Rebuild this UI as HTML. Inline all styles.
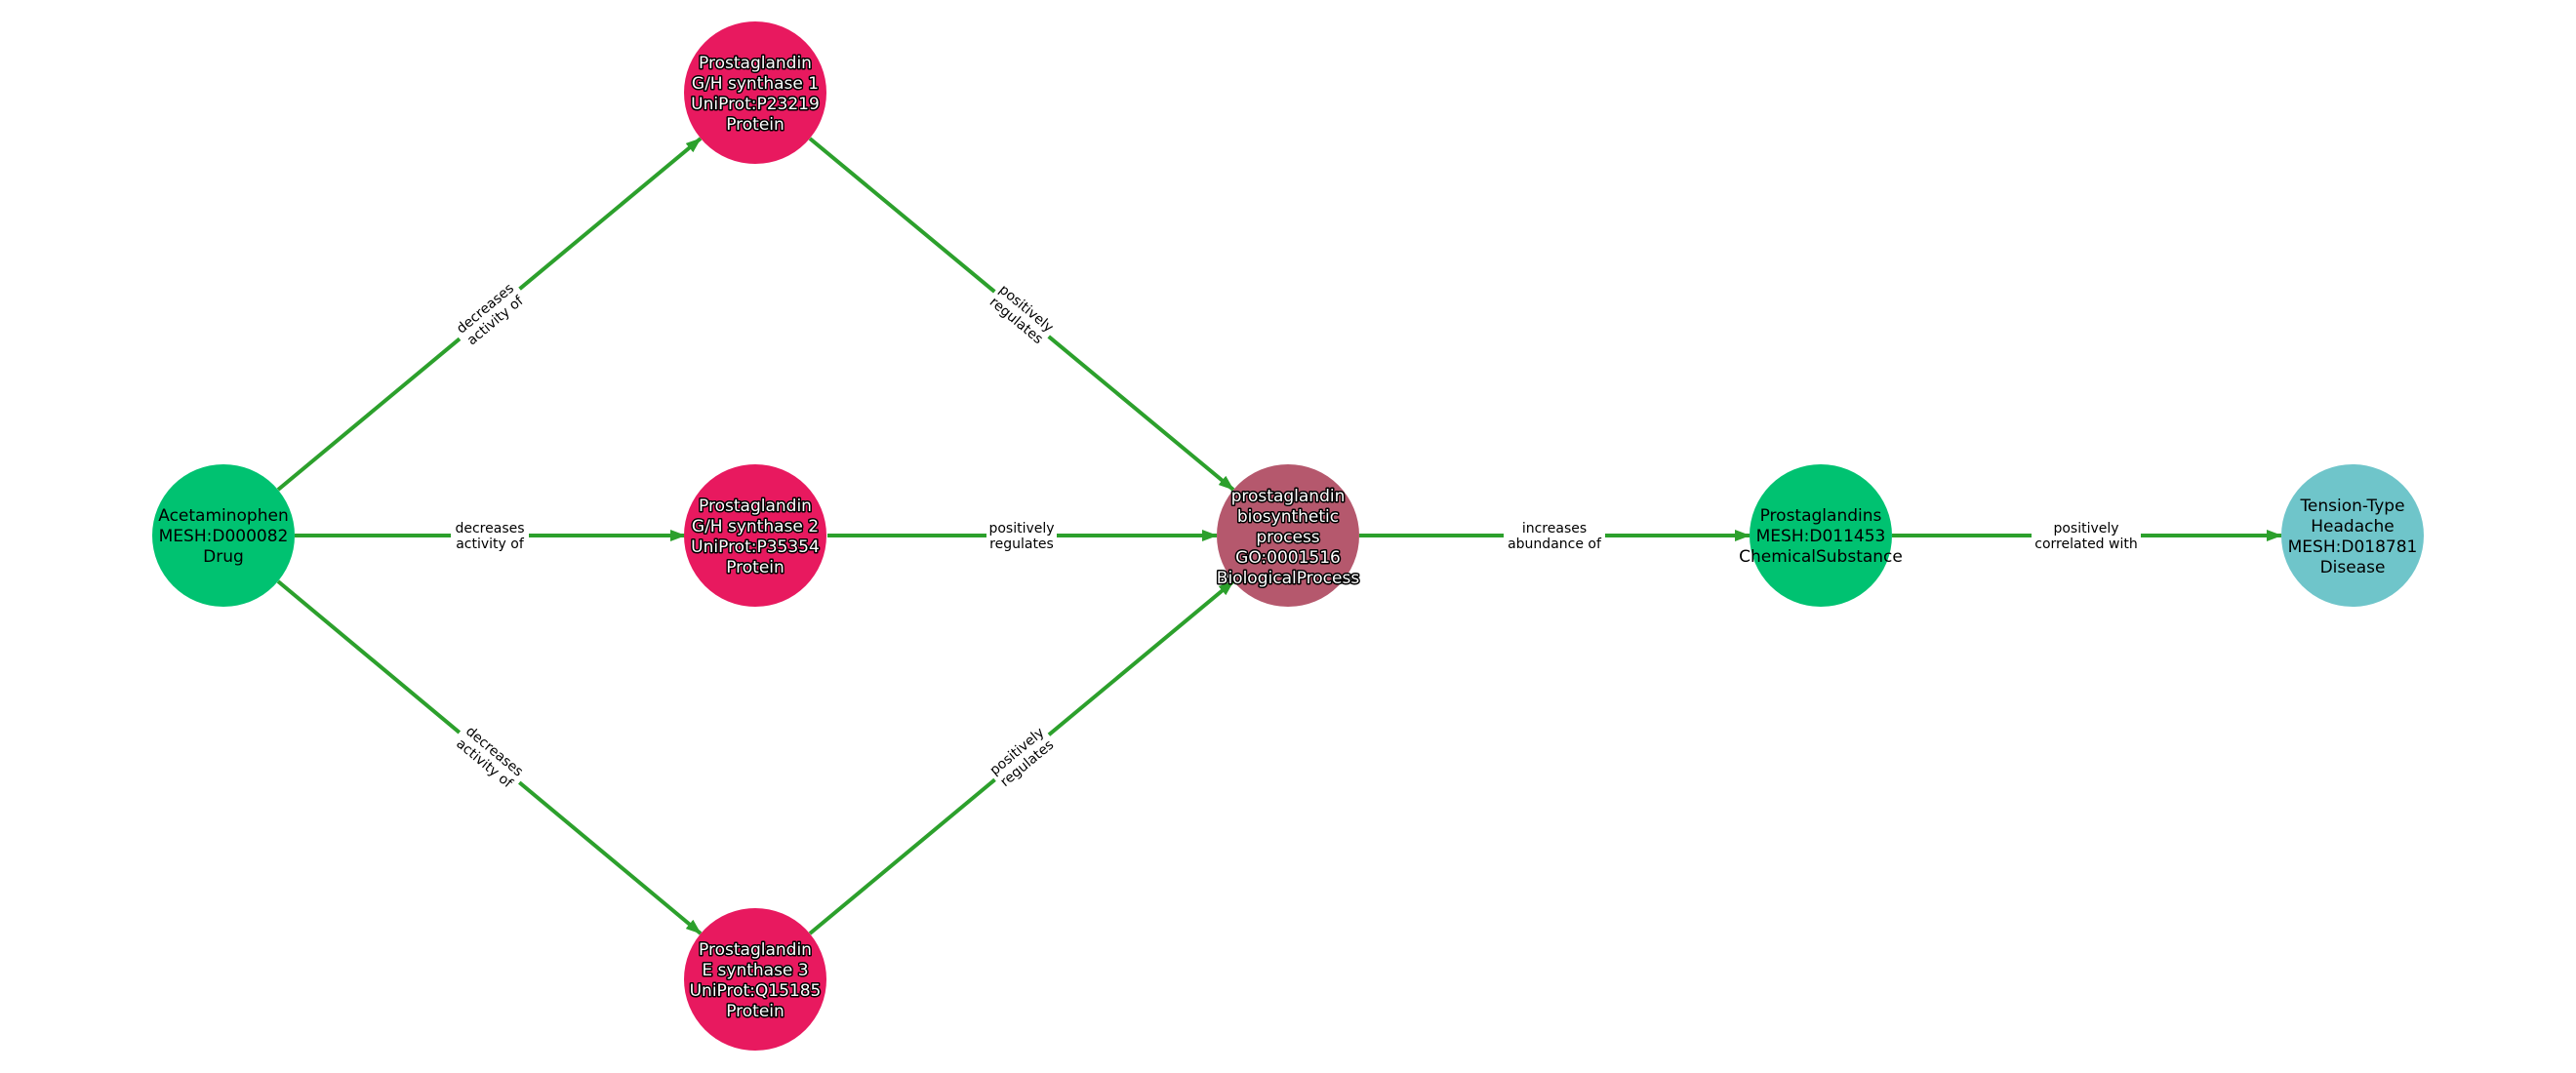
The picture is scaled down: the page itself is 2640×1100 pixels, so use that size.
<!DOCTYPE html>
<html><head><meta charset="utf-8">
<style>
html,body{margin:0;padding:0;background:#fff;}
svg{display:block;}
.nl{font-family:"DejaVu Sans","Liberation Sans",sans-serif;font-size:17px;text-anchor:middle;}
.w{fill:#fff;stroke:#000;stroke-width:3px;paint-order:stroke;stroke-linejoin:round;}
.b{fill:#000;}
.el{font-family:"DejaVu Sans","Liberation Sans",sans-serif;font-size:14px;text-anchor:middle;fill:#000;}
.e{stroke:#2ca02c;stroke-width:4;fill:none;}
</style></head>
<body>
<svg width="2640" height="1100" viewBox="0 0 2640 1100" xmlns="http://www.w3.org/2000/svg">
<defs>
<marker id="ah" markerUnits="userSpaceOnUse" markerWidth="16" markerHeight="12" refX="15" refY="6" orient="auto">
<path d="M0,0 L16,6 L0,12 z" fill="#2ca02c"/>
</marker>
</defs>
<!-- edges -->
<line class="e" x1="285" y1="502" x2="718" y2="142" marker-end="url(#ah)"/>
<line class="e" x1="830" y1="142" x2="1264" y2="502" marker-end="url(#ah)"/>
<line class="e" x1="285" y1="596" x2="718" y2="957" marker-end="url(#ah)"/>
<line class="e" x1="830" y1="957" x2="1264" y2="596" marker-end="url(#ah)"/>
<line class="e" x1="302" y1="549" x2="702" y2="549" marker-end="url(#ah)"/>
<line class="e" x1="848" y1="549" x2="1247" y2="549" marker-end="url(#ah)"/>
<line class="e" x1="1393" y1="549" x2="1793" y2="549" marker-end="url(#ah)"/>
<line class="e" x1="1939" y1="549" x2="2338" y2="549" marker-end="url(#ah)"/>

<!-- edge labels -->
<g transform="translate(502,322) rotate(-39.7)">
<rect x="-40" y="-17" width="80" height="34" fill="#fff"/>
<text class="el" y="-3">decreases</text><text class="el" y="13">activity of</text></g>
<g transform="translate(1047,322) rotate(39.7)">
<rect x="-36" y="-17" width="72" height="34" fill="#fff"/>
<text class="el" y="-3">positively</text><text class="el" y="13">regulates</text></g>
<g transform="translate(502,776) rotate(39.7)">
<rect x="-40" y="-17" width="80" height="34" fill="#fff"/>
<text class="el" y="-3">decreases</text><text class="el" y="13">activity of</text></g>
<g transform="translate(1047,776) rotate(-39.7)">
<rect x="-36" y="-17" width="72" height="34" fill="#fff"/>
<text class="el" y="-3">positively</text><text class="el" y="13">regulates</text></g>
<g transform="translate(502,549)">
<rect x="-40" y="-17" width="80" height="34" fill="#fff"/>
<text class="el" y="-3">decreases</text><text class="el" y="13">activity of</text></g>
<g transform="translate(1047,549)">
<rect x="-36" y="-17" width="72" height="34" fill="#fff"/>
<text class="el" y="-3">positively</text><text class="el" y="13">regulates</text></g>
<g transform="translate(1593,549)">
<rect x="-52" y="-17" width="104" height="34" fill="#fff"/>
<text class="el" y="-3">increases</text><text class="el" y="13">abundance of</text></g>
<g transform="translate(2138,549)">
<rect x="-56" y="-17" width="112" height="34" fill="#fff"/>
<text class="el" y="-3">positively</text><text class="el" y="13">correlated with</text></g>

<!-- nodes -->
<circle cx="229" cy="549" r="73" fill="#00c271"/>
<text class="nl b" x="229" y="534">Acetaminophen</text>
<text class="nl b" x="229" y="555">MESH:D000082</text>
<text class="nl b" x="229" y="576">Drug</text>

<circle cx="774" cy="95" r="73" fill="#e8195f"/>
<text class="nl w" x="774" y="70">Prostaglandin</text>
<text class="nl w" x="774" y="91">G/H synthase 1</text>
<text class="nl w" x="774" y="112">UniProt:P23219</text>
<text class="nl w" x="774" y="133">Protein</text>

<circle cx="774" cy="549" r="73" fill="#e8195f"/>
<text class="nl w" x="774" y="524">Prostaglandin</text>
<text class="nl w" x="774" y="545">G/H synthase 2</text>
<text class="nl w" x="774" y="566">UniProt:P35354</text>
<text class="nl w" x="774" y="587">Protein</text>

<circle cx="774" cy="1004" r="73" fill="#e8195f"/>
<text class="nl w" x="774" y="979">Prostaglandin</text>
<text class="nl w" x="774" y="1000">E synthase 3</text>
<text class="nl w" x="774" y="1021">UniProt:Q15185</text>
<text class="nl w" x="774" y="1042">Protein</text>

<circle cx="1320" cy="549" r="73" fill="#b5586d"/>
<text class="nl w" x="1320" y="514">prostaglandin</text>
<text class="nl w" x="1320" y="535">biosynthetic</text>
<text class="nl w" x="1320" y="556">process</text>
<text class="nl w" x="1320" y="577">GO:0001516</text>
<text class="nl w" x="1320" y="598">BiologicalProcess</text>

<circle cx="1866" cy="549" r="73" fill="#00c271"/>
<text class="nl b" x="1866" y="534">Prostaglandins</text>
<text class="nl b" x="1866" y="555">MESH:D011453</text>
<text class="nl b" x="1866" y="576">ChemicalSubstance</text>

<circle cx="2411" cy="549" r="73" fill="#6fc5ca"/>
<text class="nl b" x="2411" y="524">Tension-Type</text>
<text class="nl b" x="2411" y="545">Headache</text>
<text class="nl b" x="2411" y="566">MESH:D018781</text>
<text class="nl b" x="2411" y="587">Disease</text>
</svg>
</body></html>
